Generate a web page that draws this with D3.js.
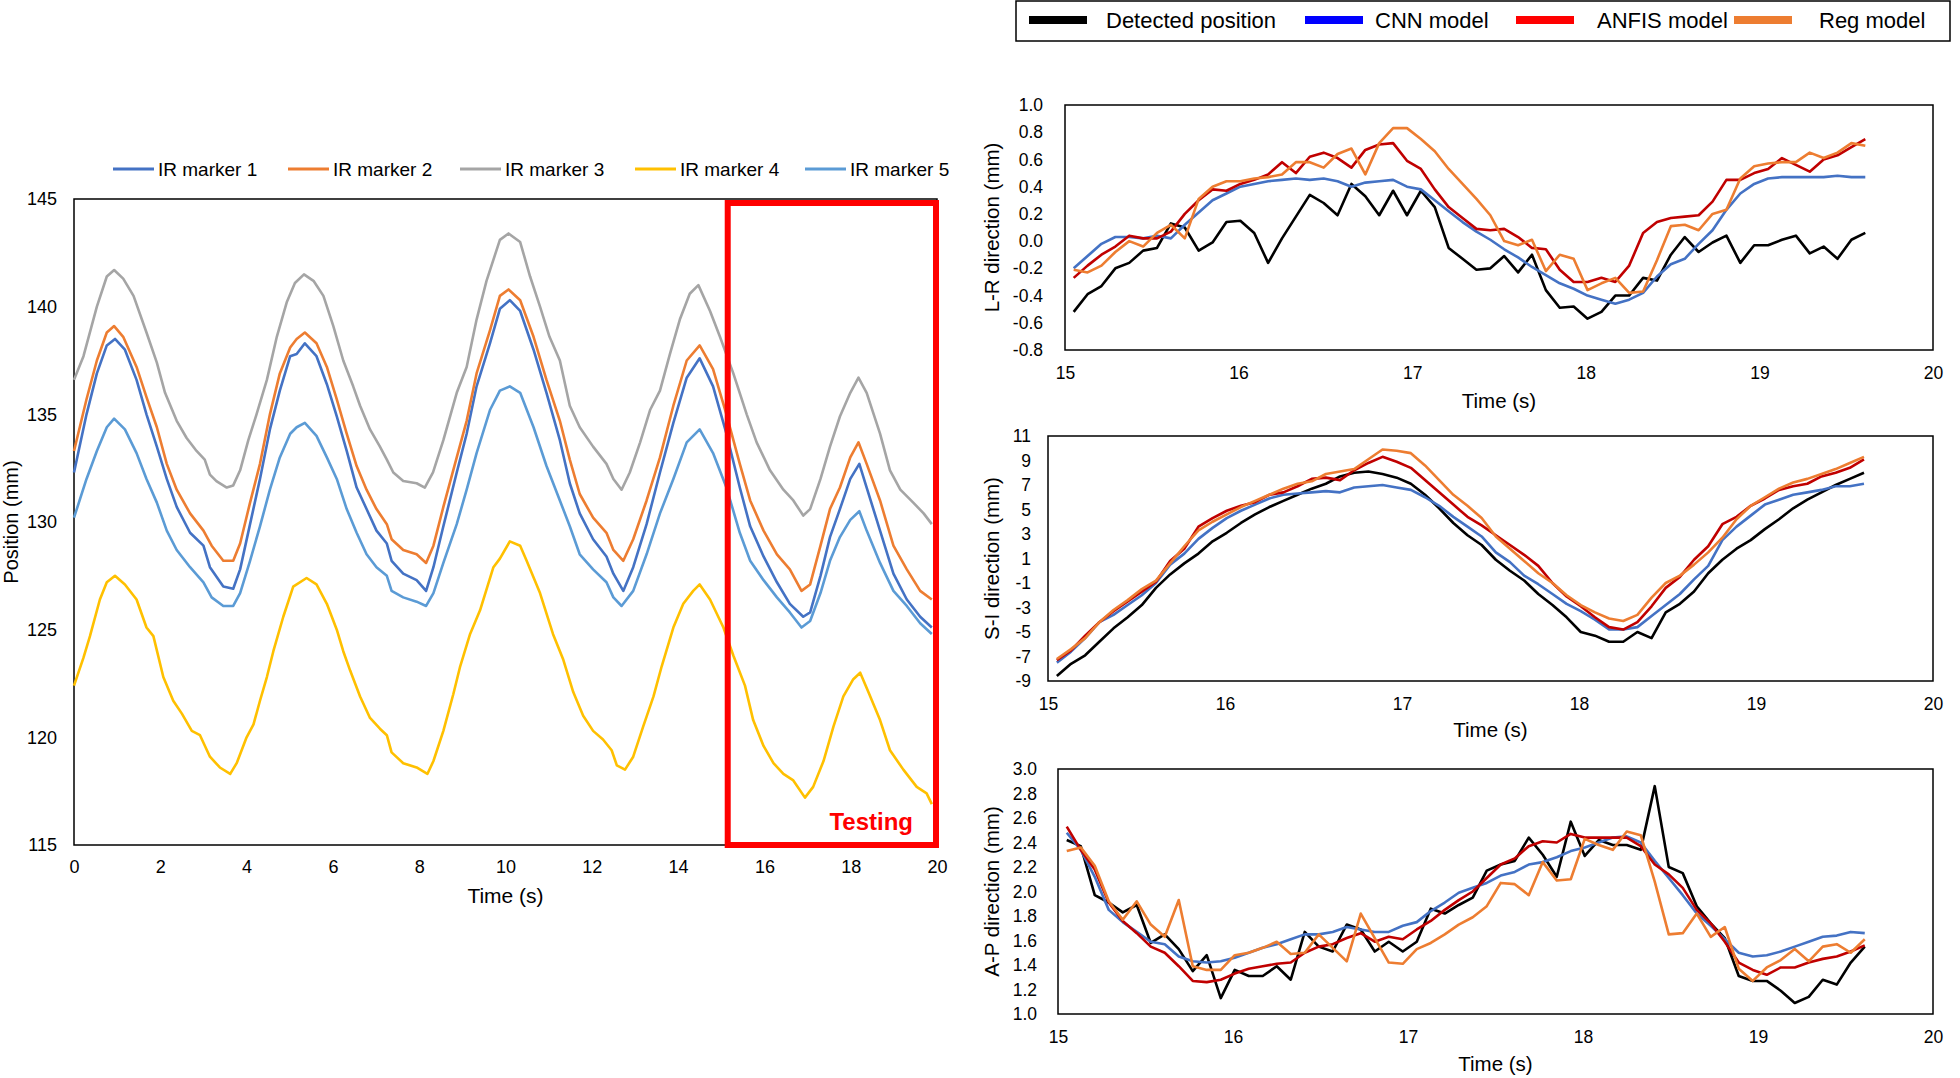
<!DOCTYPE html>
<html><head><meta charset="utf-8">
<script src="https://cdn.jsdelivr.net/npm/d3@7"></script>
<style>body{margin:0;background:#fff}svg{display:block;font-family:"Liberation Sans",Arial,sans-serif}</style>
</head><body><svg id="c" width="1960" height="1078"></svg>
<script>
// ---------------- DATA ----------------
// Left chart: IR marker positions [time (s), position (mm)]
const marker1 = [[0,132.3],[0.29,135.0],[0.53,136.9],[0.76,138.2],[0.95,138.5],[1.18,138.0],[1.45,136.6],[1.68,135.0],[1.92,133.5],[2.15,132.0],[2.38,130.7],[2.69,129.5],[3.0,128.9],[3.15,127.9],[3.46,127.0],[3.69,126.9],[3.85,127.8],[4.08,129.9],[4.31,132.0],[4.54,134.3],[4.77,136.1],[5.01,137.7],[5.16,137.8],[5.35,138.3],[5.62,137.7],[5.86,136.4],[6.09,134.9],[6.32,133.3],[6.55,131.6],[6.78,130.6],[7.01,129.6],[7.25,129.0],[7.36,128.2],[7.63,127.6],[7.94,127.3],[8.16,126.8],[8.33,127.9],[8.56,129.8],[8.87,132.3],[9.1,134.1],[9.33,136.3],[9.64,138.3],[9.87,139.9],[10.1,140.3],[10.34,139.8],[10.65,138.0],[10.95,136.0],[11.26,133.8],[11.49,131.8],[11.72,130.4],[12.03,129.2],[12.34,128.4],[12.5,127.6],[12.73,126.8],[12.96,127.9],[13.27,129.9],[13.58,132.3],[13.89,134.6],[14.2,136.7],[14.5,137.6],[14.81,136.3],[15.12,134.1],[15.43,131.6],[15.67,129.8],[15.98,128.4],[16.29,127.2],[16.59,126.2],[16.9,125.6],[17.06,125.8],[17.3,127.5],[17.52,129.3],[17.75,130.6],[17.99,132.0],[18.2,132.7],[18.37,131.6],[18.68,129.6],[18.99,127.6],[19.3,126.4],[19.61,125.6],[19.88,125.1]];
const marker2 = [[0,133.3],[0.29,135.7],[0.53,137.5],[0.76,138.8],[0.93,139.1],[1.14,138.6],[1.45,137.2],[1.68,135.8],[1.92,134.4],[2.15,132.7],[2.38,131.5],[2.69,130.4],[3.0,129.6],[3.19,128.9],[3.46,128.2],[3.69,128.2],[3.85,129.0],[4.08,130.9],[4.31,132.7],[4.54,135.0],[4.77,136.9],[5.01,138.1],[5.16,138.5],[5.35,138.8],[5.62,138.3],[5.86,137.2],[6.09,135.7],[6.32,134.1],[6.55,132.6],[6.78,131.5],[7.01,130.6],[7.25,129.9],[7.36,129.2],[7.63,128.7],[7.94,128.5],[8.16,128.1],[8.33,128.9],[8.56,130.7],[8.87,133.0],[9.1,134.7],[9.33,136.9],[9.64,138.9],[9.87,140.5],[10.07,140.8],[10.34,140.3],[10.65,138.6],[10.95,136.6],[11.26,134.7],[11.49,132.9],[11.72,131.3],[12.03,130.2],[12.34,129.5],[12.5,128.7],[12.73,128.2],[12.96,129.2],[13.27,131.0],[13.58,133.0],[13.89,135.4],[14.2,137.5],[14.5,138.2],[14.81,137.1],[15.12,135.0],[15.43,132.7],[15.67,131.0],[15.98,129.6],[16.29,128.5],[16.59,127.8],[16.86,126.8],[17.06,127.1],[17.3,128.9],[17.52,130.6],[17.75,131.6],[17.99,133.0],[18.18,133.7],[18.37,132.7],[18.68,131.0],[18.99,128.9],[19.3,127.8],[19.61,126.8],[19.88,126.4]];
const marker3 = [[0,136.6],[0.22,137.7],[0.53,140.0],[0.76,141.4],[0.93,141.7],[1.14,141.3],[1.38,140.5],[1.68,138.8],[1.92,137.4],[2.11,136.0],[2.38,134.7],[2.61,133.9],[2.84,133.3],[3.03,132.9],[3.15,132.2],[3.3,131.9],[3.54,131.6],[3.69,131.7],[3.85,132.4],[4.04,133.8],[4.23,135.0],[4.47,136.6],[4.7,138.6],[4.93,140.2],[5.12,141.1],[5.33,141.5],[5.55,141.2],[5.78,140.5],[6.01,139.1],[6.24,137.5],[6.47,136.3],[6.63,135.4],[6.86,134.3],[7.09,133.5],[7.25,132.9],[7.4,132.3],[7.63,131.9],[7.94,131.8],[8.13,131.6],[8.32,132.3],[8.56,133.8],[8.87,136.0],[9.1,137.2],[9.33,139.4],[9.56,141.2],[9.87,143.1],[10.07,143.4],[10.34,143.0],[10.57,141.4],[10.8,140.0],[11.02,138.6],[11.26,137.5],[11.49,135.4],[11.72,134.4],[12.03,133.5],[12.34,132.7],[12.5,132.0],[12.69,131.5],[12.88,132.3],[13.12,133.7],[13.35,135.2],[13.58,136.1],[13.81,137.8],[14.04,139.4],[14.27,140.6],[14.47,141.0],[14.74,139.8],[14.97,138.6],[15.28,136.9],[15.59,135.0],[15.82,133.7],[16.13,132.4],[16.44,131.5],[16.67,131.0],[16.9,130.3],[17.06,130.6],[17.3,132.0],[17.52,133.5],[17.75,134.9],[17.99,136.0],[18.18,136.7],[18.37,136.0],[18.68,134.1],[18.91,132.4],[19.15,131.5],[19.45,130.9],[19.69,130.4],[19.88,129.9]];
const marker4 = [[0,122.4],[0.22,123.7],[0.37,124.7],[0.6,126.4],[0.76,127.2],[0.95,127.5],[1.18,127.1],[1.45,126.4],[1.68,125.1],[1.84,124.7],[2.07,122.8],[2.3,121.7],[2.5,121.1],[2.73,120.3],[2.92,120.1],[3.15,119.1],[3.38,118.6],[3.62,118.3],[3.77,118.8],[4.0,120.0],[4.16,120.6],[4.31,121.7],[4.47,122.8],[4.62,124.0],[4.85,125.6],[5.08,127.0],[5.39,127.4],[5.62,127.1],[5.86,126.2],[6.09,125.0],[6.24,124.0],[6.4,123.1],[6.63,121.9],[6.86,120.9],[7.09,120.4],[7.25,120.1],[7.36,119.3],[7.63,118.8],[7.94,118.6],[8.19,118.3],[8.33,118.9],[8.56,120.3],[8.79,122.0],[8.95,123.3],[9.18,124.8],[9.41,125.9],[9.72,127.9],[9.87,128.3],[10.1,129.1],[10.34,128.9],[10.49,128.2],[10.8,126.7],[11.1,124.8],[11.34,123.6],[11.57,122.1],[11.8,121.0],[12.03,120.3],[12.26,119.9],[12.46,119.4],[12.58,118.7],[12.77,118.5],[12.96,119.1],[13.19,120.5],[13.43,121.9],[13.62,123.3],[13.89,125.1],[14.12,126.2],[14.35,126.8],[14.5,127.1],[14.74,126.4],[15.05,125.1],[15.28,123.8],[15.55,122.4],[15.74,120.8],[15.98,119.6],[16.21,118.8],[16.44,118.3],[16.67,118.0],[16.94,117.2],[17.13,117.7],[17.37,118.9],[17.6,120.5],[17.83,121.9],[18.06,122.7],[18.22,123.0],[18.41,122.1],[18.68,120.8],[18.91,119.4],[19.22,118.5],[19.53,117.7],[19.76,117.4],[19.88,116.9]];
const marker5 = [[0,130.2],[0.29,132.0],[0.53,133.3],[0.76,134.4],[0.93,134.8],[1.18,134.3],[1.45,133.2],[1.68,132.0],[1.92,130.9],[2.15,129.6],[2.38,128.7],[2.69,127.9],[3.0,127.2],[3.19,126.5],[3.46,126.1],[3.69,126.1],[3.85,126.7],[4.08,128.2],[4.31,129.8],[4.54,131.5],[4.77,133.0],[5.01,134.1],[5.16,134.4],[5.35,134.6],[5.62,134.0],[5.86,133.0],[6.09,132.0],[6.32,130.6],[6.55,129.5],[6.78,128.5],[7.01,127.9],[7.25,127.5],[7.36,126.8],[7.63,126.5],[7.94,126.3],[8.16,126.1],[8.33,126.7],[8.56,128.1],[8.87,129.9],[9.1,131.5],[9.33,133.2],[9.64,135.2],[9.87,136.1],[10.1,136.3],[10.34,136.0],[10.65,134.4],[10.95,132.6],[11.26,131.0],[11.49,129.8],[11.72,128.5],[12.03,127.8],[12.34,127.2],[12.5,126.5],[12.69,126.1],[12.96,126.8],[13.27,128.5],[13.58,130.4],[13.89,132.0],[14.2,133.7],[14.5,134.3],[14.81,133.2],[15.12,131.6],[15.43,129.5],[15.67,128.2],[15.98,127.3],[16.29,126.5],[16.59,125.8],[16.86,125.1],[17.06,125.4],[17.3,126.7],[17.52,128.2],[17.75,129.3],[17.99,130.1],[18.2,130.5],[18.37,129.6],[18.68,128.1],[18.99,126.8],[19.3,126.1],[19.61,125.3],[19.88,124.8]];
const markerNames = ["IR marker 1","IR marker 2","IR marker 3","IR marker 4","IR marker 5"];
const leftXTicks = [0,2,4,6,8,10,12,14,16,18,20];
const leftYTicks = [115,120,125,130,135,140,145];
const testingRange = [15.15, 20];

// Right panels: shared time base (s)
const rightTimes = [15.05,15.13,15.21,15.29,15.37,15.45,15.53,15.61,15.69,15.77,15.85,15.93,16.01,16.09,16.17,16.25,16.33,16.41,16.49,16.57,16.65,16.73,16.81,16.89,16.97,17.05,17.13,17.21,17.29,17.37,17.45,17.53,17.61,17.69,17.77,17.85,17.93,18.01,18.09,18.17,18.25,18.33,18.41,18.49,18.57,18.65,18.73,18.81,18.89,18.97,19.05,19.13,19.21,19.29,19.37,19.45,19.53,19.61];
const rightXTicks = [15,16,17,18,19,20];
const modelNames = ["Detected position","CNN model","ANFIS model","Reg model"];

const lrDetected = [-0.52,-0.39,-0.33,-0.20,-0.16,-0.07,-0.05,0.13,0.10,-0.07,-0.01,0.14,0.15,0.06,-0.16,0.02,0.18,0.34,0.28,0.19,0.42,0.33,0.19,0.37,0.19,0.37,0.25,-0.05,-0.13,-0.21,-0.20,-0.11,-0.23,-0.10,-0.36,-0.49,-0.48,-0.57,-0.52,-0.40,-0.40,-0.27,-0.29,-0.10,0.03,-0.08,-0.01,0.04,-0.16,-0.03,-0.03,0.01,0.04,-0.09,-0.04,-0.13,0.01,0.06];
const lrCNN = [-0.20,-0.11,-0.02,0.03,0.03,0.02,0.04,0.02,0.12,0.21,0.30,0.35,0.40,0.42,0.44,0.45,0.46,0.45,0.46,0.44,0.40,0.43,0.44,0.45,0.40,0.38,0.30,0.22,0.14,0.07,0.01,-0.06,-0.12,-0.19,-0.25,-0.31,-0.35,-0.40,-0.43,-0.46,-0.43,-0.38,-0.26,-0.17,-0.13,-0.02,0.08,0.23,0.35,0.42,0.46,0.47,0.47,0.47,0.47,0.48,0.47,0.47];
const lrANFIS = [-0.27,-0.18,-0.10,-0.04,0.04,0.02,0.02,0.07,0.20,0.30,0.38,0.37,0.42,0.45,0.49,0.58,0.50,0.62,0.65,0.61,0.54,0.67,0.71,0.72,0.59,0.53,0.38,0.25,0.17,0.09,0.08,0.09,0.03,-0.05,-0.06,-0.21,-0.30,-0.30,-0.27,-0.30,-0.18,0.06,0.14,0.17,0.18,0.19,0.29,0.45,0.45,0.50,0.53,0.61,0.56,0.51,0.60,0.63,0.69,0.75];
const lrReg = [-0.21,-0.23,-0.18,-0.08,0.00,-0.04,0.06,0.12,0.02,0.31,0.40,0.44,0.44,0.46,0.47,0.49,0.58,0.58,0.54,0.64,0.68,0.49,0.72,0.83,0.83,0.75,0.66,0.53,0.42,0.31,0.19,0.00,-0.03,0.01,-0.22,-0.10,-0.13,-0.36,-0.31,-0.27,-0.38,-0.37,-0.14,0.11,0.12,0.08,0.20,0.23,0.46,0.55,0.57,0.58,0.58,0.65,0.61,0.65,0.72,0.70];
const lrTicks = [-0.8,-0.6,-0.4,-0.2,0.0,0.2,0.4,0.6,0.8,1.0];

const siDetected = [-8.6,-7.6,-6.9,-5.8,-4.7,-3.8,-2.8,-1.4,-0.3,0.6,1.4,2.4,3.1,3.9,4.6,5.2,5.7,6.2,6.7,7.1,7.7,8.0,8.1,7.9,7.6,7.1,6.2,5.1,3.9,2.9,2.1,0.9,0.0,-0.8,-1.9,-2.8,-3.8,-5.0,-5.3,-5.8,-5.8,-5.0,-5.5,-3.4,-2.7,-1.7,-0.2,0.9,1.8,2.5,3.4,4.2,5.1,5.8,6.4,7.0,7.5,8.0];
const siCNN = [-7.5,-6.6,-5.5,-4.2,-3.6,-2.8,-2.0,-1.0,0.5,1.4,2.6,3.5,4.3,4.9,5.4,5.9,6.2,6.3,6.4,6.5,6.4,6.8,6.9,7.0,6.8,6.6,6.0,5.3,4.4,3.6,2.8,1.5,0.7,-0.4,-1.1,-1.9,-2.7,-3.3,-4.0,-4.8,-4.8,-4.6,-3.7,-2.8,-1.9,-0.7,0.4,2.5,3.6,4.5,5.4,5.8,6.2,6.4,6.6,6.9,6.9,7.1];
const siANFIS = [-7.3,-6.5,-5.3,-4.2,-3.3,-2.5,-1.7,-0.9,0.8,1.8,3.6,4.3,4.9,5.3,5.6,6.2,6.4,6.9,7.5,7.6,7.4,8.2,8.8,9.3,8.9,8.4,7.4,6.4,5.4,4.4,3.7,2.9,2.1,1.3,0.4,-1.0,-2.1,-2.9,-3.8,-4.6,-4.8,-4.2,-2.9,-1.4,-0.5,0.9,2.0,3.8,4.4,5.3,5.9,6.6,6.9,7.1,7.7,8.0,8.4,9.1];
const siReg = [-7.2,-6.4,-5.5,-4.2,-3.2,-2.4,-1.5,-0.8,0.6,2.0,3.3,4.0,4.6,5.2,5.7,6.2,6.7,7.1,7.3,7.9,8.1,8.3,9.1,9.9,9.8,9.6,8.6,7.4,6.2,5.3,4.3,2.8,1.8,0.8,-0.2,-1.0,-2.0,-2.8,-3.4,-3.9,-4.1,-3.6,-2.2,-1.0,-0.4,0.5,1.5,2.7,4.2,5.3,6.0,6.7,7.2,7.5,7.9,8.3,8.8,9.3];
const siTicks = [-9,-7,-5,-3,-1,1,3,5,7,9,11];

const apDetected = [2.42,2.37,1.97,1.91,1.83,1.89,1.58,1.65,1.53,1.35,1.48,1.13,1.36,1.31,1.31,1.39,1.28,1.67,1.55,1.51,1.73,1.69,1.51,1.59,1.51,1.59,1.86,1.82,1.89,1.95,2.17,2.22,2.25,2.44,2.30,2.12,2.57,2.29,2.42,2.38,2.38,2.34,2.86,2.20,2.15,1.88,1.74,1.62,1.31,1.27,1.27,1.19,1.09,1.14,1.28,1.24,1.42,1.55];
const apCNN = [2.48,2.34,2.12,1.85,1.75,1.67,1.59,1.57,1.47,1.43,1.42,1.43,1.46,1.50,1.54,1.57,1.61,1.65,1.65,1.67,1.71,1.69,1.67,1.67,1.72,1.75,1.84,1.91,1.99,2.03,2.07,2.13,2.16,2.22,2.24,2.28,2.33,2.36,2.40,2.44,2.45,2.40,2.25,2.11,1.97,1.82,1.72,1.61,1.50,1.47,1.48,1.51,1.55,1.59,1.63,1.64,1.67,1.66];
const apANFIS = [2.53,2.34,2.18,1.91,1.76,1.66,1.55,1.50,1.39,1.27,1.26,1.28,1.33,1.37,1.39,1.41,1.42,1.50,1.55,1.57,1.62,1.66,1.59,1.63,1.61,1.69,1.76,1.85,1.93,2.00,2.11,2.22,2.27,2.37,2.41,2.40,2.47,2.44,2.44,2.44,2.44,2.37,2.22,2.14,2.03,1.85,1.74,1.59,1.42,1.36,1.32,1.38,1.38,1.42,1.45,1.47,1.51,1.56];
const apReg = [2.33,2.36,2.21,1.92,1.77,1.92,1.73,1.63,1.93,1.39,1.36,1.36,1.48,1.50,1.54,1.59,1.49,1.50,1.65,1.54,1.43,1.82,1.62,1.42,1.41,1.53,1.58,1.65,1.73,1.79,1.88,2.07,2.06,1.97,2.24,2.09,2.10,2.43,2.38,2.34,2.49,2.46,2.08,1.65,1.66,1.82,1.63,1.71,1.37,1.27,1.38,1.44,1.53,1.43,1.55,1.57,1.50,1.61];
const apTicks = [1.0,1.2,1.4,1.6,1.8,2.0,2.2,2.4,2.6,2.8,3.0];

// ---------------- DRAWING ----------------
const svg = d3.select("#c");
const FONT = '"Liberation Sans", Arial, sans-serif';

function styleAxis(g, size) {
  g.select(".domain").remove();
  g.selectAll(".tick line").remove();
  g.attr("font-family", FONT).attr("font-size", size);
  g.selectAll("text").attr("fill", "#000");
}

// ---- Left chart ----
const L = {x0: 74, x1: 937, y0: 199, y1: 845};
const xL = d3.scaleLinear().domain([0, 20]).range([L.x0, L.x1]);
const yL = d3.scaleLinear().domain([115, 145]).range([L.y1, L.y0]);
const markerColors = ["#4472C4", "#ED7D31", "#A5A5A5", "#FFC000", "#5B9BD5"];
const markers = [marker1, marker2, marker3, marker4, marker5];

svg.append("rect").attr("x", L.x0).attr("y", L.y0).attr("width", L.x1 - L.x0).attr("height", L.y1 - L.y0)
  .attr("fill", "none").attr("stroke", "#000").attr("stroke-width", 1.5);

const lineL = d3.line().x(d => xL(d[0])).y(d => yL(d[1]));
markers.forEach((m, i) => {
  svg.append("path").attr("d", lineL(m)).attr("fill", "none")
    .attr("stroke", markerColors[i]).attr("stroke-width", 2.6).attr("stroke-linejoin", "round");
});

svg.append("g").attr("transform", `translate(${L.x0},0)`)
  .call(d3.axisLeft(yL).tickValues(leftYTicks).tickSize(0).tickPadding(17).tickFormat(d3.format("d")))
  .call(g => styleAxis(g, 18));
svg.append("g").attr("transform", `translate(0,${L.y1})`)
  .call(d3.axisBottom(xL).tickValues(leftXTicks).tickSize(0).tickPadding(15.5).tickFormat(d3.format("d")))
  .call(g => styleAxis(g, 18));

svg.append("text").attr("x", (L.x0 + L.x1) / 2).attr("y", 903).attr("text-anchor", "middle")
  .attr("font-size", 21).attr("font-family", FONT).text("Time (s)");
svg.append("text").attr("transform", `translate(18,${(L.y0 + L.y1) / 2}) rotate(-90)`).attr("text-anchor", "middle")
  .attr("font-size", 20).attr("font-family", FONT).text("Position (mm)");

// Testing box
svg.append("rect").attr("x", xL(testingRange[0])).attr("y", 203)
  .attr("width", xL(testingRange[1]) - 1 - xL(testingRange[0])).attr("height", L.y1 - 203)
  .attr("fill", "none").attr("stroke", "#FF0000").attr("stroke-width", 6);
svg.append("text").attr("x", 913).attr("y", 830).attr("text-anchor", "end")
  .attr("font-size", 24).attr("font-weight", "bold").attr("font-family", FONT).attr("fill", "#FF0000").text("Testing");

// Left legend
const legX = [113, 288, 460, 635, 805];
markerNames.forEach((n, i) => {
  svg.append("line").attr("x1", legX[i]).attr("x2", legX[i] + 41).attr("y1", 169).attr("y2", 169)
    .attr("stroke", markerColors[i]).attr("stroke-width", 3);
  svg.append("text").attr("x", legX[i] + 45).attr("y", 169).attr("dy", "0.35em")
    .attr("font-size", 19).attr("font-family", FONT).attr("fill", "#000").text(n);
});

// ---- Top right legend ----
svg.append("rect").attr("x", 1016).attr("y", 1).attr("width", 934).attr("height", 40)
  .attr("fill", "#fff").attr("stroke", "#000").attr("stroke-width", 1.5);
const topLegSw = [1029, 1305, 1516, 1734];
const topLegTx = [1106, 1375, 1597, 1819];
const topLegCol = ["#000000", "#0000FF", "#FF0000", "#ED7D31"];
modelNames.forEach((n, i) => {
  svg.append("rect").attr("x", topLegSw[i]).attr("y", 16).attr("width", 58).attr("height", 8).attr("fill", topLegCol[i]);
  svg.append("text").attr("x", topLegTx[i]).attr("y", 20).attr("dy", "0.35em")
    .attr("font-size", 22).attr("font-family", FONT).attr("fill", "#000").text(n);
});

// ---- Right panels ----
const modelColors = ["#000000", "#4472C4", "#C00000", "#ED7D31"];
const panels = [
  {x0: 1065, x1: 1933, y0: 105, y1: 350, dom: [-0.8, 1.0], ticks: lrTicks, fmt: d => d.toFixed(1), pad: 22,
   series: [lrDetected, lrCNN, lrANFIS, lrReg], title: "L-R direction (mm)", tBase: 408},
  {x0: 1048, x1: 1933, y0: 436, y1: 681, dom: [-9, 11], ticks: siTicks, fmt: d => String(d), pad: 17,
   series: [siDetected, siCNN, siANFIS, siReg], title: "S-I direction (mm)", tBase: 737},
  {x0: 1058, x1: 1933, y0: 769, y1: 1014, dom: [1.0, 3.0], ticks: apTicks, fmt: d => d.toFixed(1), pad: 21,
   series: [apDetected, apCNN, apANFIS, apReg], title: "A-P direction (mm)", tBase: 1071}
];

panels.forEach(p => {
  const x = d3.scaleLinear().domain([15, 20]).range([p.x0, p.x1]);
  const y = d3.scaleLinear().domain(p.dom).range([p.y1, p.y0]);
  svg.append("rect").attr("x", p.x0).attr("y", p.y0).attr("width", p.x1 - p.x0).attr("height", p.y1 - p.y0)
    .attr("fill", "none").attr("stroke", "#000").attr("stroke-width", 1.5);
  const line = d3.line().x((d, i) => x(rightTimes[i])).y(d => y(d));
  p.series.forEach((s, k) => {
    svg.append("path").attr("d", line(s)).attr("fill", "none").attr("stroke", modelColors[k])
      .attr("stroke-width", 2.6).attr("stroke-linejoin", "round");
  });
  svg.append("g").attr("transform", `translate(${p.x0},0)`)
    .call(d3.axisLeft(y).tickValues(p.ticks).tickSize(0).tickPadding(p.pad).tickFormat(p.fmt))
    .call(g => styleAxis(g, 17.5));
  svg.append("g").attr("transform", `translate(0,${p.y1})`)
    .call(d3.axisBottom(x).tickValues(rightXTicks).tickSize(0).tickPadding(16.5).tickFormat(d3.format("d")))
    .call(g => styleAxis(g, 17.5));
  svg.append("text").attr("x", (p.x0 + p.x1) / 2).attr("y", p.tBase).attr("text-anchor", "middle")
    .attr("font-size", 20.5).attr("font-family", FONT).text("Time (s)");
  svg.append("text").attr("transform", `translate(999,${(p.y0 + p.y1) / 2}) rotate(-90)`).attr("text-anchor", "middle")
    .attr("font-size", 20.5).attr("font-family", FONT).text(p.title);
});
</script></body></html>
